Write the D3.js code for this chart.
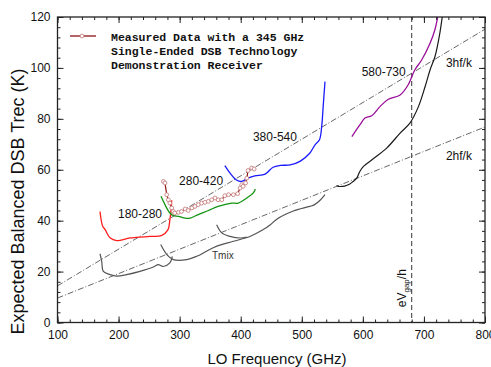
<!DOCTYPE html>
<html>
<head>
<meta charset="utf-8">
<script src="https://cdn.jsdelivr.net/npm/d3@7"></script>
<style>
  body { margin: 0; background: #fff; }
  svg { display: block; font-family: "Liberation Sans", Arial, sans-serif; }
</style>
</head>
<body>
<div id="chart"></div>
<script>
// axis ticks
const xMajor = [100, 200, 300, 400, 500, 600, 700, 800];
const yMajor = [0, 20, 40, 60, 80, 100, 120];

// receiver bands [LO GHz, Trec K]
const band180 = [[169.6, 43.6], [174, 37.8], [178, 36.5], [186, 33.3], [197, 32.2], [219, 33.2],
  [251, 33.8], [270, 34.1], [281, 36.5], [284, 40.4], [286, 44.3], [287, 48]];
const band280 = [[269.5, 49.6], [276, 46.3], [284, 43], [289.6, 42], [298, 41.7], [309, 41],
  [317, 41], [330.5, 42.4], [347, 44], [363, 45.6], [385, 46.9], [396, 46.9], [410, 48.9],
  [420.6, 50.9], [424, 52.4]];
const band380 = [[374, 61.6], [382.5, 58.7], [393, 56], [401.6, 55.4], [412, 56.7], [423, 57.6],
  [440, 58.3], [453, 61], [465, 61.7], [481, 61.9], [497, 63.3], [513, 66.5], [521.7, 69.8],
  [529, 71.8], [532.6, 77], [535, 84.8], [538, 94.6]];
const band580 = [[582, 73], [595, 77.6], [603.5, 80.3], [614.5, 81.2], [628, 84.8], [641.7, 87.7],
  [661, 89.4], [674, 93.3], [685, 99.2], [696, 103], [710, 109.7], [718, 115], [724, 122]];

// mixer noise temperature segments
const tmixA = [[169.6, 27], [172.4, 24], [175, 20.1], [186, 18.8], [197, 18.2], [213, 18.8],
  [235, 20.1], [257, 21.8], [265, 22.7], [273, 22], [284, 23.4], [288, 26]];
const tmixB = [[269, 30.6], [279, 26.7], [289.6, 24.7], [311.6, 24.7], [328, 26], [344, 28],
  [360, 29.9], [388, 31.9], [415, 33.8], [437, 36.5], [448, 38.3], [459, 40.6], [486, 43.8],
  [513, 45.6], [521, 46.3], [530, 48], [538, 50.2]];
const tmixC = [[360.6, 38.4], [369, 35.2], [382.5, 33.8], [399, 33.2], [410, 33.6]];
const tmixD = [[557, 53.8], [560, 53.5], [570, 53.6], [578, 54.3], [584, 55.4], [590, 56.7],
  [595, 59.3], [601, 61.3], [617, 64.3], [639, 68.5], [661, 74.4], [677, 78.3], [691, 84.8],
  [702, 92.7], [710, 99.2], [718, 104.4], [726, 113.6], [731, 122]];

// measured 345 GHz receiver
const measured = [[273.5, 55.4], [276, 54.8], [278.8, 50.2], [281.5, 48.2], [284, 46.9], [287, 45],
  [289.6, 43.6], [292, 43], [298, 43.3], [303, 43.6], [309, 44.6], [314, 44], [320, 45],
  [325, 45.6], [330.5, 46.3], [336, 46.9], [341.5, 47.2], [347, 47.6], [352.5, 48.2],
  [358, 48.9], [363, 48.2], [369, 48.2], [374, 49.8], [380, 50.2], [388, 50.2], [395, 50.6],
  [399, 52.8], [401.6, 54.1], [404, 53.5], [408, 54.8], [410, 56.7], [412, 59.7], [418, 60.7],
  [422, 60.3]];

// quantum limit lines (endpoints)
const hf2 = [[100, 9.6], [800, 76.8]];
const hf3 = [[100, 14.4], [800, 115.2]];
const gapFreq = 680;

const legendLines = ['Measured Data with a 345 GHz', 'Single-Ended DSB Technology',
  'Demonstration Receiver'];
const bandLabels = [
  { text: '180-280', f: 199, t: 41 },
  { text: '280-420', f: 299, t: 54.2 },
  { text: '380-540', f: 420, t: 71.3 },
  { text: '580-730', f: 598, t: 96.8 },
  { text: '3hf/k', f: 736, t: 100.4 },
  { text: '2hf/k', f: 736, t: 63.8 },
];

const W = 491, H = 367;
const svg = d3.select('#chart').append('svg').attr('width', W).attr('height', H);

const x = d3.scaleLinear().domain([100, 800]).range([57.5, 485]);
const y = d3.scaleLinear().domain([0, 120]).range([322.5, 17]);

svg.append('clipPath').attr('id', 'plot')
  .append('rect').attr('x', 57.5).attr('y', 17).attr('width', 427.5).attr('height', 305.5);

const plot = svg.append('g').attr('clip-path', 'url(#plot)');

const smooth = d3.line().x(d => x(d[0])).y(d => y(d[1])).curve(d3.curveCatmullRom.alpha(0.5));
const straight = d3.line().x(d => x(d[0])).y(d => y(d[1]));

// hf/k lines
[hf2, hf3].forEach(d => {
  plot.append('path').attr('d', straight(d)).attr('fill', 'none')
    .attr('stroke', '#555').attr('stroke-width', 0.9).attr('stroke-dasharray', '6,2,1,2');
});

// gap frequency
plot.append('line')
  .attr('x1', x(gapFreq)).attr('x2', x(gapFreq)).attr('y1', y(120)).attr('y2', y(0))
  .attr('stroke', '#333').attr('stroke-width', 1).attr('stroke-dasharray', '5,3');

// Tmix
[tmixA, tmixB, tmixC].forEach(d => {
  plot.append('path').attr('d', smooth(d)).attr('fill', 'none')
    .attr('stroke', '#555').attr('stroke-width', 1.2);
});
plot.append('path').attr('d', smooth(tmixD)).attr('fill', 'none')
  .attr('stroke', '#1a1a1a').attr('stroke-width', 1.2);

// bands
const bands = [[band180, '#ff1a1a'], [band280, '#139413'], [band380, '#1a1aff'], [band580, '#9a109a']];
bands.forEach(([d, c]) => {
  plot.append('path').attr('d', smooth(d)).attr('fill', 'none')
    .attr('stroke', c).attr('stroke-width', 1.3);
});

// measured data
plot.append('path').attr('d', straight(measured)).attr('fill', 'none')
  .attr('stroke', '#8b1010').attr('stroke-width', 1.2);
plot.selectAll('circle.meas').data(measured).enter().append('circle')
  .attr('class', 'meas')
  .attr('cx', d => x(d[0])).attr('cy', d => y(d[1])).attr('r', 1.9)
  .attr('fill', '#fff').attr('stroke', '#c88080').attr('stroke-width', 0.9);

// labels
svg.selectAll('text.band').data(bandLabels).enter().append('text')
  .attr('class', 'band')
  .attr('x', d => x(d.f)).attr('y', d => y(d.t))
  .attr('font-size', 12).attr('fill', '#111')
  .text(d => d.text);

svg.append('text').attr('x', x(353)).attr('y', y(24.8))
  .attr('font-size', 10).attr('fill', '#333').text('Tmix');

const gapLabel = svg.append('text')
  .attr('transform', `translate(${x(gapFreq) - 6},${y(6)}) rotate(-90)`)
  .attr('font-size', 12).attr('fill', '#111');
gapLabel.append('tspan').text('eV');
gapLabel.append('tspan').attr('font-size', 8).attr('dy', 3).text('gap');
gapLabel.append('tspan').attr('dy', -3).text('/h');

// legend
svg.append('line').attr('x1', 70).attr('x2', 96).attr('y1', 36).attr('y2', 36)
  .attr('stroke', '#8b1010').attr('stroke-width', 1.3);
svg.append('circle').attr('cx', 82).attr('cy', 36).attr('r', 1.9)
  .attr('fill', '#fff').attr('stroke', '#c88080').attr('stroke-width', 0.9);
svg.selectAll('text.leg').data(legendLines).enter().append('text')
  .attr('class', 'leg')
  .attr('x', 111).attr('y', (d, i) => 40.5 + i * 14)
  .attr('font-family', '"Liberation Mono", "Courier New", monospace')
  .attr('font-weight', 'bold').attr('font-size', 11.5).attr('fill', '#111')
  .text(d => d);

// axes
const xMinor = d3.range(100, 801, 20);
const yMinor = d3.range(0, 121, 4);

function styleAxis(g) {
  g.select('.domain').remove();
  g.selectAll('line').attr('stroke', '#222').attr('stroke-width', 1);
  g.selectAll('text').attr('font-size', 12).attr('fill', '#111')
    .attr('font-family', '"Liberation Sans", Arial, sans-serif');
}

svg.append('g').attr('transform', 'translate(0,322.5)')
  .call(d3.axisBottom(x).tickValues(xMinor).tickSize(-3).tickFormat('')).call(styleAxis);
svg.append('g').attr('transform', 'translate(0,322.5)')
  .call(d3.axisBottom(x).tickValues(xMajor).tickSize(-6).tickPadding(8).tickFormat(d3.format('d')))
  .call(styleAxis);
svg.append('g').attr('transform', 'translate(0,17)')
  .call(d3.axisTop(x).tickValues(xMinor).tickSize(-3).tickFormat('')).call(styleAxis);
svg.append('g').attr('transform', 'translate(0,17)')
  .call(d3.axisTop(x).tickValues(xMajor).tickSize(-6).tickFormat('')).call(styleAxis);

svg.append('g').attr('transform', 'translate(57.5,0)')
  .call(d3.axisLeft(y).tickValues(yMinor).tickSize(-3).tickFormat('')).call(styleAxis);
svg.append('g').attr('transform', 'translate(57.5,0)')
  .call(d3.axisLeft(y).tickValues(yMajor).tickSize(-6).tickPadding(7).tickFormat(d3.format('d')))
  .call(styleAxis);
svg.append('g').attr('transform', 'translate(485,0)')
  .call(d3.axisRight(y).tickValues(yMinor).tickSize(-3).tickFormat('')).call(styleAxis);
svg.append('g').attr('transform', 'translate(485,0)')
  .call(d3.axisRight(y).tickValues(yMajor).tickSize(-6).tickFormat('')).call(styleAxis);

svg.append('rect').attr('x', 57.5).attr('y', 17).attr('width', 427.5).attr('height', 305.5)
  .attr('fill', 'none').attr('stroke', '#222').attr('stroke-width', 1.3);

svg.append('text').attr('x', 277).attr('y', 364).attr('text-anchor', 'middle')
  .attr('font-size', 15).attr('fill', '#111').text('LO Frequency (GHz)');
svg.append('text').attr('transform', 'translate(24,201.5) rotate(-90)').attr('text-anchor', 'middle')
  .attr('font-size', 18).attr('fill', '#111').text('Expected Balanced DSB Trec (K)');
</script>
</body>
</html>
